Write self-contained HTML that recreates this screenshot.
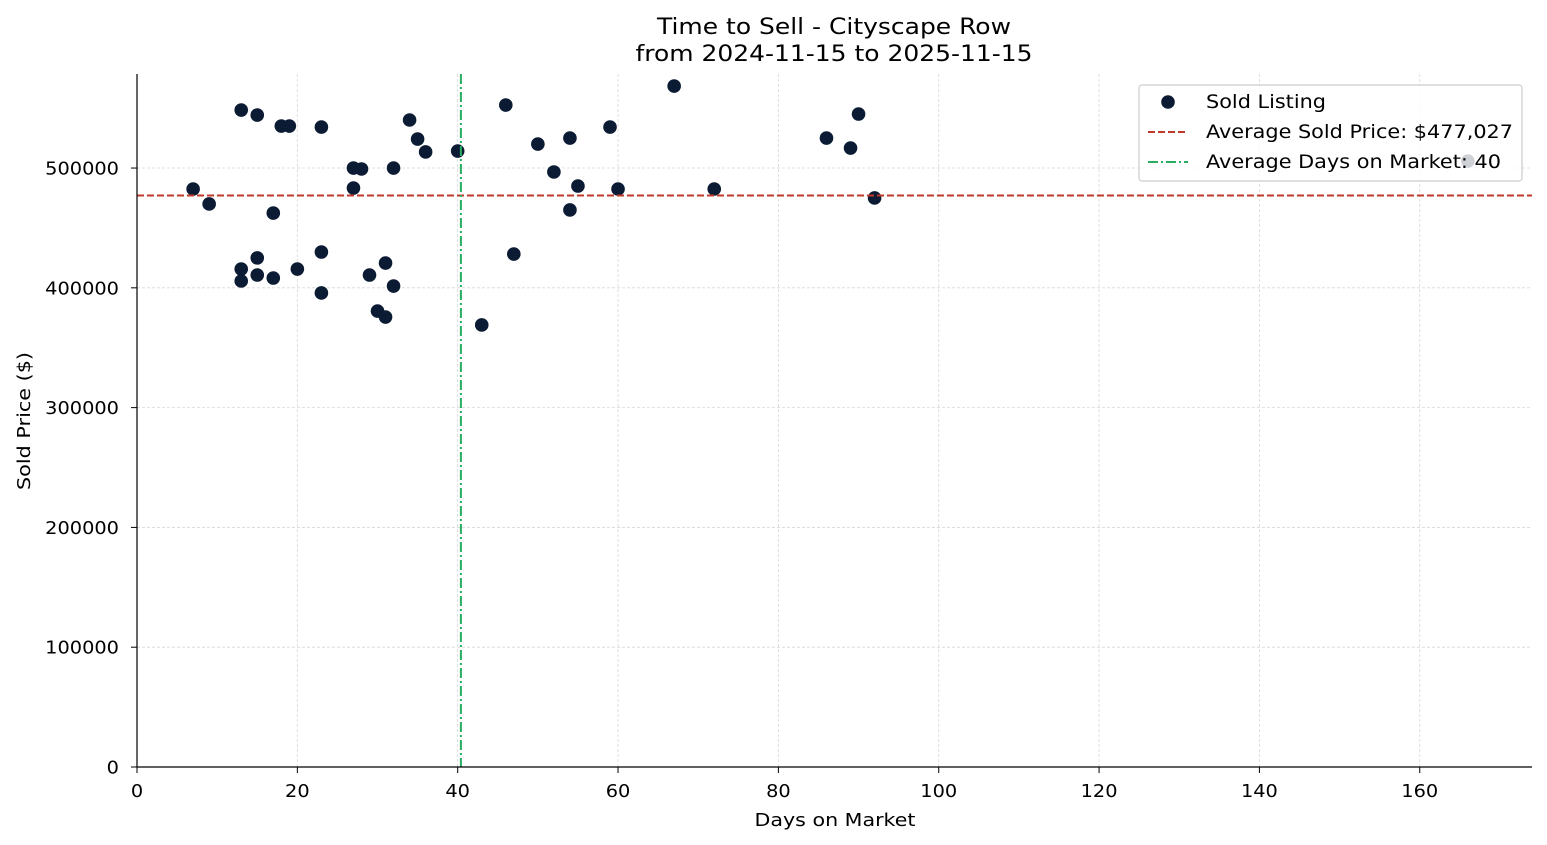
<!DOCTYPE html>
<html><head><meta charset="utf-8"><style>
html,body{margin:0;padding:0;background:#fff;}
svg{display:block;font-family:"DejaVu Sans","Liberation Sans",sans-serif;}
</style></head><body>
<svg id="chart" width="1547" height="845" viewBox="0 0 1547 845" xmlns="http://www.w3.org/2000/svg"></svg>
<script>
const daysOnMarket = [7,9,13,13,13,15,15,15,17,17,18,19,20,23,23,23,27,27,28,29,30,31,31,32,32,34,35,36,40,43,46,47,50,52,54,54,55,59,60,67,72,86,89,90,92,166];
const soldPrices = [482500,470000,548400,415700,405700,544200,425000,410700,462400,408200,535000,535000,415700,534200,429900,395700,500000,483300,499200,410700,380600,420700,375600,500000,401500,540100,524200,513400,514200,369000,552600,428200,520000,496700,525000,465000,485000,534200,482500,568400,482500,525000,516700,545100,475000,505800];
const xTicks = [0,20,40,60,80,100,120,140,160];
const yTicks = [0,100000,200000,300000,400000,500000];
const avgPrice = [477027];
const avgDays = [40.4];

const NS="http://www.w3.org/2000/svg";
const svg=document.getElementById('chart');
const L=137,R=1532,T=74,B=767;
const xMax=174, yMax=578500;
const xs=v=>L+(v/xMax)*(R-L);
const ys=v=>B-(v/yMax)*(B-T);
const digitW=12.3;
function mk(tag,attrs,parent){const e=document.createElementNS(NS,tag);for(const k in attrs)e.setAttribute(k,attrs[k]);(parent||svg).appendChild(e);return e;}

const grid=mk('g',{});


xTicks.forEach(t=>{mk('line',{x1:xs(t),x2:xs(t),y1:T,y2:B,stroke:'#d8d8d8','stroke-width':0.8,'stroke-dasharray':'3,2'},grid);});
yTicks.forEach(t=>{mk('line',{x1:L,x2:R,y1:ys(t),y2:ys(t),stroke:'#d8d8d8','stroke-width':0.8,'stroke-dasharray':'3,2'},grid);});

const pts=mk('g',{});


daysOnMarket.forEach((d,i)=>{
  const c=mk('circle',{cx:xs(d),cy:ys(soldPrices[i]),r:6.8,fill:'#0b1b33'},pts);
  
  
});

const hl=mk('line',{x1:L,x2:R,y1:ys(avgPrice[0]),y2:ys(avgPrice[0]),stroke:'#c0392b','stroke-width':2,'stroke-dasharray':'7,3'});


const vl=mk('line',{x1:xs(avgDays[0]),x2:xs(avgDays[0]),y1:T,y2:B,stroke:'#27ae60','stroke-width':2,'stroke-dasharray':'10,3,2,3'});



const ax=mk('g',{});


mk('line',{x1:L,x2:L,y1:T,y2:B,stroke:'#000','stroke-width':1.2},ax);
mk('line',{x1:L,x2:R,y1:B,y2:B,stroke:'#000','stroke-width':1.2},ax);
xTicks.forEach(t=>{
  mk('line',{x1:xs(t),x2:xs(t),y1:B,y2:B+6,stroke:'#000'},ax);
  const s=String(t);
  const tx=mk('text',{x:xs(t),y:B+30,'text-anchor':'middle','font-size':18,fill:'#000',textLength:s.length*digitW,lengthAdjust:'spacingAndGlyphs'},ax);tx.textContent=s;
  
  
});
yTicks.forEach(t=>{
  mk('line',{x1:L-6,x2:L,y1:ys(t),y2:ys(t),stroke:'#000'},ax);
  const s=String(t);
  const tx=mk('text',{x:L-18,y:ys(t)+6.5,'text-anchor':'end','font-size':18,fill:'#000',textLength:s.length*digitW,lengthAdjust:'spacingAndGlyphs'},ax);tx.textContent=s;
  
  
});
</script>
<svg style="position:absolute;left:0;top:0" width="1547" height="845" font-family="DejaVu Sans, Liberation Sans, sans-serif">
<text x="834" y="34" text-anchor="middle" font-size="22" textLength="354" lengthAdjust="spacingAndGlyphs">Time to Sell - Cityscape Row</text>
<text x="834" y="61" text-anchor="middle" font-size="22" textLength="397" lengthAdjust="spacingAndGlyphs">from 2024-11-15 to 2025-11-15</text>
<text x="835" y="826" text-anchor="middle" font-size="18" textLength="161" lengthAdjust="spacingAndGlyphs">Days on Market</text>
<text x="421" y="30" text-anchor="middle" font-size="18" textLength="138" lengthAdjust="spacingAndGlyphs" transform="translate(0,842) rotate(-90)">Sold Price ($)</text>
<g font-size="19">
<rect x="1139" y="85" width="383" height="96" rx="3" fill="rgba(255,255,255,0.8)" stroke="#ccc" stroke-width="1.2"/>
<circle cx="1168" cy="102" r="6.8" fill="#0b1b33"/>
<text x="1206" y="108" textLength="120" lengthAdjust="spacingAndGlyphs">Sold Listing</text>
<line x1="1148" x2="1188" y1="132" y2="132" stroke="#c0392b" stroke-width="2" stroke-dasharray="7,3"/>
<text x="1206" y="138" textLength="307" lengthAdjust="spacingAndGlyphs">Average Sold Price: $477,027</text>
<line x1="1148" x2="1188" y1="162" y2="162" stroke="#27ae60" stroke-width="2" stroke-dasharray="10,3,2,3"/>
<text x="1206" y="168" textLength="295" lengthAdjust="spacingAndGlyphs">Average Days on Market: 40</text>
</g>
</svg>
</body></html>
